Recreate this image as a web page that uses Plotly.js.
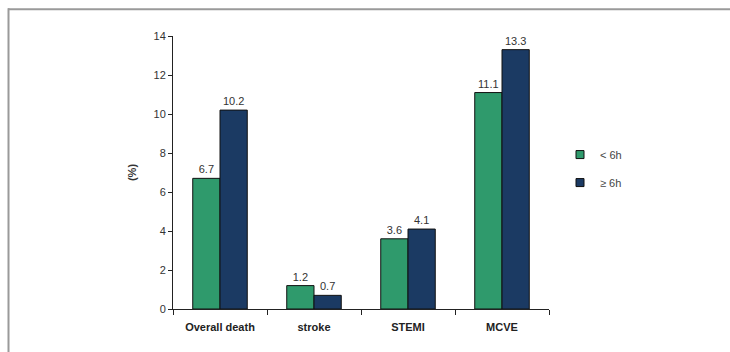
<!DOCTYPE html>
<html>
<head>
<meta charset="utf-8">
<script src="https://cdn.plot.ly/plotly-3.0.1.min.js"></script>
<style>
html,body{margin:0;padding:0;background:#fff;}
#chart{width:730px;height:352px;}
</style>
</head>
<body>
<div id="chart"></div>
<script>
const categories = ["Overall death", "stroke", "STEMI", "MCVE"];
const seriesNames = ["< 6h", "≥ 6h"];
const lessThan6h = [6.7, 1.2, 3.6, 11.1];
const atLeast6h = [10.2, 0.7, 4.1, 13.3];
const yTicks = [0, 2, 4, 6, 8, 10, 12, 14];
const colors = ["#2f9a6c", "#1b3a63"];

const FONT = "Liberation Sans, Arial, sans-serif";
const L = 173, R = 549, T = 35.7, B = 309.3;
const px = x => (x - L) / (R - L);
const py = y => (B - y) / (B - T);

const mk = (vals, color) => ({
  type: "bar", x: categories, y: vals, showlegend: false,
  marker: {color: color, line: {color: "#111", width: 1}},
  text: vals.map(v => v.toFixed(1)), textposition: "outside",
  textfont: {family: FONT, size: 11, color: "#333"},
  cliponaxis: false, hoverinfo: "skip"
});
// legend-only entries with small square swatches
const lg = (name, color, grp) => ({
  type: "scatter", mode: "markers", x: [null], y: [null], name: name,
  legendgroup: grp, showlegend: true,
  marker: {symbol: "square", size: 8, color: color, line: {color: "#111", width: 1}},
  hoverinfo: "skip"
});

const data = [
  mk(lessThan6h, colors[0]),
  mk(atLeast6h, colors[1]),
  lg(seriesNames[0], colors[0], "a"),
  lg(seriesNames[1], colors[1], "b")
];

const layout = {
  width: 730, height: 352,
  margin: {l: L, r: 730 - R, t: T, b: 352 - B, pad: 0},
  paper_bgcolor: "#fff", plot_bgcolor: "rgba(0,0,0,0)",
  barmode: "group", bargap: 0.42, bargroupgap: 0,
  font: {family: FONT, size: 11, color: "#333"},
  showlegend: true,
  legend: {x: px(560), y: py(140), xanchor: "left", yanchor: "top",
    traceorder: "grouped", tracegroupgap: 9,
    font: {family: FONT, size: 11, color: "#444"},
    itemwidth: 30, bgcolor: "rgba(0,0,0,0)"},
  xaxis: {type: "category", showgrid: false, zeroline: false,
    showline: true, linecolor: "#222", linewidth: 1,
    ticks: "outside", tickson: "boundaries", ticklen: 5, tickcolor: "#222",
    ticklabelstandoff: 8,
    tickfont: {family: FONT, size: 11, color: "#222", weight: "bold"},
    fixedrange: true},
  yaxis: {range: [0, 14], tickvals: yTicks, showgrid: false, zeroline: false,
    showline: true, linecolor: "#222", linewidth: 1,
    ticks: "outside", ticklen: 4, tickcolor: "#222",
    tickfont: {family: FONT, size: 11, color: "#333"},
    title: {text: "(%)", font: {family: FONT, size: 11, color: "#333", weight: "bold"}, standoff: 14},
    fixedrange: true},
  shapes: [
    {type: "line", xref: "paper", yref: "paper", x0: px(8), x1: px(731), y0: py(9), y1: py(9), line: {color: "#9a9a9a", width: 2}},
    {type: "line", xref: "paper", yref: "paper", x0: px(8.5), x1: px(8.5), y0: py(8), y1: py(353), line: {color: "#9a9a9a", width: 2}}
  ]
};

Plotly.newPlot("chart", data, layout, {displayModeBar: false, staticPlot: true});
</script>
</body>
</html>
